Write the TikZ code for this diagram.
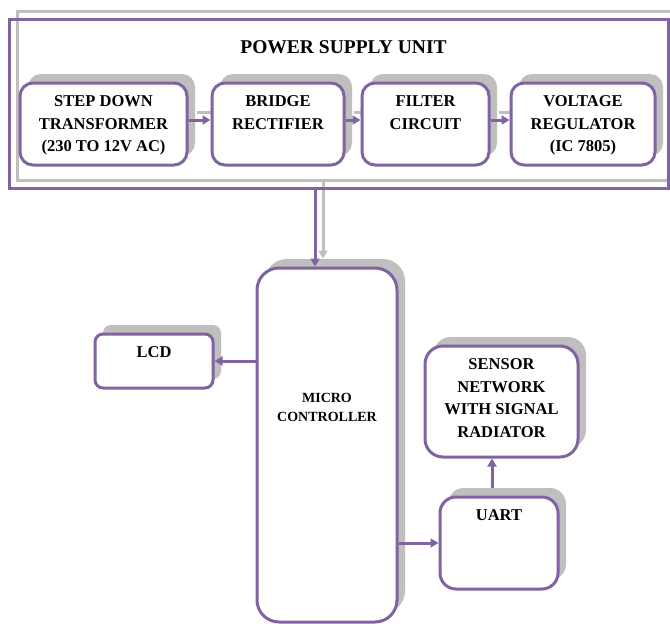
\documentclass[tikz,border=0pt]{standalone}
\usepackage{fontspec}
\setmainfont{Liberation Serif}
\usetikzlibrary{arrows.meta,positioning,shadows,backgrounds}
\definecolor{boxpurple}{RGB}{128,100,162}
\definecolor{shadegray}{RGB}{191,191,191}

\begin{document}
\begin{tikzpicture}[
  x=1pt, y=-1pt,
  blk/.style={draw=boxpurple, line width=3pt, fill=white, rounded corners=13pt,
              drop shadow={shadow xshift=8pt, shadow yshift=9pt, opacity=1, fill=shadegray}},
  txt/.style={font=\bfseries\fontsize{16.5}{22.5}\selectfont, align=center, inner sep=0pt},
  toptxt/.style={txt, anchor=north, yshift=-14pt},
  arr/.style={-{Triangle[length=8pt,width=9pt]}, line width=3pt, boxpurple},
  shd/.style={-{Triangle[length=8pt,width=9pt]}, line width=3pt, shadegray},
  node distance=22pt
]
\useasboundingbox (0,0) rectangle (670,624);

% power supply unit
\node[draw=boxpurple, line width=3pt, outer sep=0pt,
      minimum width=659pt, minimum height=169pt] (psu) at (338.5,103.5) {};
\node[font=\bfseries\fontsize{19.5}{22}\selectfont, inner sep=0pt,
      below=21pt of psu.north, xshift=5pt] (title) {POWER SUPPLY UNIT};

\node[blk, minimum width=167pt, minimum height=82pt,
      label={[toptxt]north:STEP DOWN\\TRANSFORMER\\(230 TO 12V AC)}] (step) at (103.5,124) {};
\node[blk, minimum width=132pt, minimum height=82pt, right=of step,
      label={[toptxt]north:BRIDGE\\RECTIFIER}] (bridge) {};
\node[blk, minimum width=127pt, minimum height=82pt, right=15pt of bridge,
      label={[toptxt]north:FILTER\\CIRCUIT}] (filter) {};
\node[blk, minimum width=144pt, minimum height=82pt, right=19pt of filter,
      label={[toptxt]north:VOLTAGE\\REGULATOR\\(IC 7805)}] (volt) {};

% controller side
\node[blk, rounded corners=22pt, minimum width=140pt, minimum height=354pt,
      label={[txt, font=\bfseries\fontsize{14}{18.5}\selectfont, yshift=37.5pt]center:MICRO\\CONTROLLER}] (micro) at (327,445) {};
\node[blk, rounded corners=8pt, minimum width=118pt, minimum height=54pt,
      label={[toptxt]north:LCD}] (lcd) at (154,361) {};
\node[blk, rounded corners=18pt, minimum width=153pt, minimum height=111pt,
      label={[toptxt]north:SENSOR\\NETWORK\\WITH SIGNAL\\RADIATOR}] (sensor) at (501.5,401.5) {};
\node[blk, rounded corners=16pt, minimum width=118pt, minimum height=92pt,
      below=37pt of sensor, xshift=-2.5pt,
      label={[toptxt]north:UART}] (uart) {};

\draw[arr] ([yshift=4pt]step.east) -- ([yshift=4pt]bridge.west);
\draw[arr] ([yshift=4pt]bridge.east) -- ([yshift=4pt]filter.west);
\draw[arr] ([yshift=4pt]filter.east) -- ([yshift=4pt]volt.west);
\draw[arr] ([xshift=-12pt]micro.north |- psu.south) -- ([xshift=-12pt]micro.north);
\draw[arr] (micro.west |- lcd) -- (lcd);
\draw[arr] (micro.east |- uart) -- (uart);
\draw[arr] ([xshift=-7pt,yshift=8pt]uart.north) -- ([xshift=-7pt]uart.north |- sensor.south);

% shadows of the supply group
\begin{scope}[on background layer]
  \draw[shadegray, line width=3pt] ([shift={(8pt,8pt)}]psu.south west) rectangle ([shift={(8pt,8pt)}]psu.north east);
  \draw[shd] ([shift={(8pt,12pt)}]step.east) -- ([shift={(8pt,12pt)}]bridge.west);
  \draw[shd] ([shift={(8pt,12pt)}]bridge.east) -- ([shift={(8pt,12pt)}]filter.west);
  \draw[shd] ([shift={(8pt,12pt)}]filter.east) -- ([shift={(8pt,12pt)}]volt.west);
  \draw[shd] ([shift={(-4pt,8pt)}]micro.north |- psu.south) -- ([shift={(-4pt,8pt)}]micro.north);
\end{scope}
\end{tikzpicture}
\end{document}
